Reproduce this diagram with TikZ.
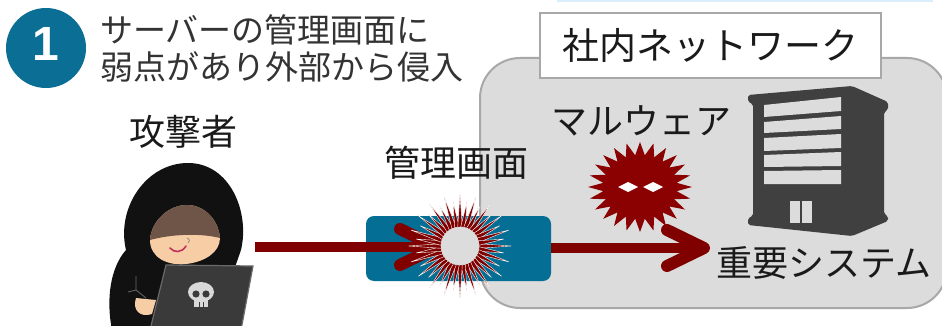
\documentclass[tikz,border=0pt]{standalone}
\usepackage{fontspec}
\setmainfont{Liberation Sans}
\newfontfamily\jp{Noto Sans CJK JP}
\definecolor{badgeblue}{HTML}{0B6E94}
\definecolor{boxblue}{HTML}{046E94}
\definecolor{netgray}{HTML}{DCDCDC}
\definecolor{netedge}{HTML}{A8A8A8}
\definecolor{maroonred}{HTML}{800000}
\definecolor{virusred}{HTML}{8B0000}
\definecolor{bldggray}{HTML}{404040}
\definecolor{titlegray}{HTML}{333333}
\definecolor{labelblack}{HTML}{1A1A1A}
\definecolor{topline}{HTML}{D8EEFA}
\definecolor{skin}{HTML}{F7CDA6}
\definecolor{visor}{HTML}{6E5548}
\definecolor{hoodblack}{HTML}{111111}
\definecolor{laptopgray}{HTML}{3A3A3A}
\definecolor{laptopedge}{HTML}{6A6A6A}
\definecolor{skullgray}{HTML}{D8D8D8}
\definecolor{smilered}{HTML}{C2305A}
\tikzset{
  label/.style={font=\jp\fontsize{36}{36}\selectfont, text=labelblack, inner sep=0pt},
  shaft/.style={draw=maroonred, line width=10pt},
  chevron/.style={draw=maroonred, line width=12pt, line cap=round, line join=round},
  spike/.style={fill=maroonred, draw=white, line width=0.4pt, line join=miter},
}
\begin{document}
\begin{tikzpicture}[x=1pt,y=-1pt]
\useasboundingbox (0,0) rectangle (942,326);
\clip (0,0) rectangle (942,326);
\fill[white] (0,0) rectangle (942,326);
\draw[topline, line width=2pt] (557,1) -- (933,1);

% numbered badge and heading
\node[circle, fill=badgeblue, minimum size=80pt, inner sep=0pt] (badge) at (46,48) {};
\node[font=\fontsize{48}{48}\selectfont\bfseries, text=white, inner sep=0pt, yshift=4pt] (badgenum) at (badge) {1};
\node[anchor=west, align=left, font=\jp\fontsize{33}{37}\selectfont, text=titlegray, inner sep=0pt] (title) at (100,48) {サーバーの管理画面に\\弱点があり外部から侵入};

% company network area
\node[draw=netedge, fill=netgray, line width=2pt, rounded corners=40pt, minimum width=467pt, minimum height=250pt] (net) at (713.5,183) {};
\node[draw=netedge, fill=white, line width=2pt, minimum width=341pt, minimum height=65pt, label, font=\jp\fontsize{37}{37}\selectfont] (netlabel) at (710.5,45.5) {社内ネットワーク};

% building
\fill[bldggray, rounded corners=2pt] (748,95) -- (852,86) -- (888,102) -- (888,110) -- (884,112) -- (884,214) -- (888,216) -- (888,221) -- (852,236) -- (748,225) -- (748,218) -- (753,216) -- (753,104) -- (748,102) -- cycle;
\fill[netgray] (764,105) -- (841,97) -- (841,111) -- (764,117) -- cycle;
\fill[netgray] (764,122) -- (841,116) -- (841,129) -- (764,133) -- cycle;
\fill[netgray] (764,138) -- (841,134) -- (841,148) -- (764,151) -- cycle;
\fill[netgray] (764,155) -- (841,152) -- (841,166) -- (764,167) -- cycle;
\fill[netgray] (764,171) -- (841,170) -- (841,184) -- (764,184) -- cycle;
\fill[netgray] (790,201) rectangle (800,223);
\fill[netgray] (802,201) rectangle (812,223);
\coordinate (bldg) at (818,160);

% malware
\coordinate (mal) at (640,187);
\fill[virusred] plot[samples at={0,...,47}, variable=\k]
  ({640+(44.5+7.5*cos(\k*180))*cos(\k*7.5)}, {187+(38.5+6.5*cos(\k*180))*sin(\k*7.5)}) -- cycle;
\fill[white] (618,187) -- (628,182) -- (638,187) -- (628,192) -- cycle;
\fill[white] (643,187) -- (653,182) -- (663,187) -- (653,192) -- cycle;

% labels
\node[label] (atklabel) at (183,132) {攻撃者};
\node[label] (mgmtlabel) at (456,163) {管理画面};
\node[label] (mallabel) at (641,121) {マルウェア};
\node[label] (sys) at (824,263) {重要システム};

% management screen
\node[fill=boxblue, rounded corners=8pt, minimum width=185pt, minimum height=65pt] (mgmt) at (458.5,248.5) {};
\coordinate (burst) at (460,246);

% attacker
\node[minimum width=140pt, minimum height=160pt, inner sep=0pt] (atk) at (185,247) {};
\fill[hoodblack] (112,330) .. controls (106,300) and (110,268) .. (126,250)
  .. controls (116,208) and (146,163) .. (188,163)
  .. controls (230,163) and (250,212) .. (241,250)
  -- (234,270) -- (170,270) -- (160,330) -- cycle;
\fill[skin] (150,240) .. controls (150,258) and (168,266) .. (186,264)
  .. controls (205,262) and (220,252) .. (220,238)
  .. controls (218,218) and (203,205) .. (187,205)
  .. controls (168,205) and (151,222) .. (150,240) -- cycle;
\fill[visor] (150,240) .. controls (151,222) and (168,205) .. (187,205)
  .. controls (203,205) and (218,218) .. (220,238)
  .. controls (200,233) and (172,234) .. (150,240) -- cycle;
\draw[smilered, line width=1.6pt, line cap=round] (170,248) .. controls (174,253) and (182,253) .. (186,246);
\draw[visor!70, line width=0.8pt] (187,238) .. controls (190,240) .. (188,243);
\draw[laptopedge, line width=0.8pt] (136,276) -- (136,290) -- (128,292) (136,290) -- (146,298);
\fill[skin] (136,298) .. controls (132,310) and (140,318) .. (152,314) -- (156,300) -- cycle;
\filldraw[fill=laptopgray, draw=laptopedge, line width=1.2pt] (166,265) -- (253,266) -- (241,330) -- (150,330) -- cycle;
\fill[skullgray] (201,292) ellipse [x radius=13, y radius=10];
\fill[skullgray] (194,297) rectangle (208,307);
\fill[laptopgray] (196,294) circle [radius=3.6];
\fill[laptopgray] (206,294) circle [radius=3.6];
\draw[laptopgray, line width=0.8pt] (199,302) -- (199,307) (203,302) -- (203,307);

% attack path into the management screen
\coordinate (tip1) at (437,247);
\draw[shaft] (atk.east) -- (tip1);
\draw[chevron] (tip1) ++(-37,-18) -- (tip1) -- ++(-37,18);

% breach burst: narrow spikes around a pale core
\foreach \k in {0,...,39} {
  \pgfmathsetmacro{\R}{48+3.5*cos(\k*180)}
  \pgfmathsetmacro{\ca}{cos(\k*9)}
  \pgfmathsetmacro{\sa}{sin(\k*9)}
  \fill[spike] ({460+19*\ca-2.3*\sa},{246+19*\sa+2.3*\ca})
    -- ({460+\R*\ca},{246+\R*\sa})
    -- ({460+19*\ca+2.3*\sa},{246+19*\sa-2.3*\ca}) -- cycle;
}
\fill[netgray] (burst) circle [radius=19];

% path onward to the key system
\coordinate (tip2) at (704,248);
\draw[shaft] (mgmt.east |- tip2) -- (tip2);
\draw[chevron] (tip2) ++(-37,-18) -- (tip2) -- ++(-37,18);
\end{tikzpicture}
\end{document}
